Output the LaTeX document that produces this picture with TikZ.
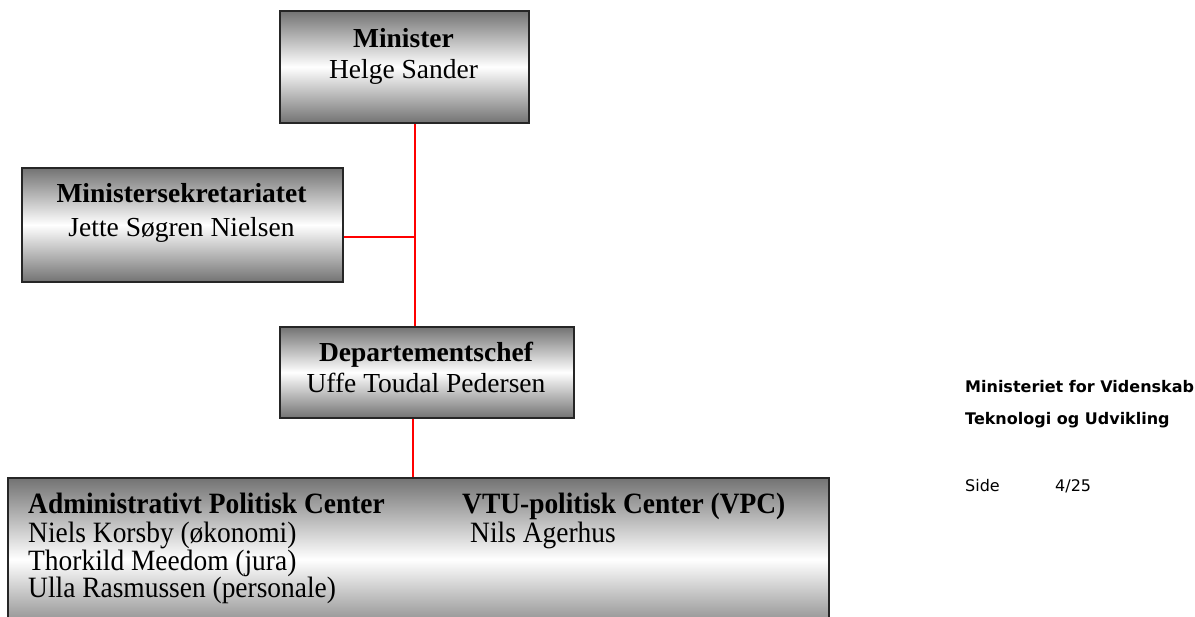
\documentclass[tikz,border=0pt]{standalone}
\usepackage{fontspec}
\setmainfont{Liberation Serif}
\newfontfamily\condserif[FakeStretch=0.93]{Liberation Serif}
\newfontfamily\versans{DejaVu Sans}
\begin{document}
\begin{tikzpicture}[x=1pt,y=-1pt,
  orgbox/.style={draw=black!85, line width=1.8pt, top color=black!55, bottom color=black!55, middle color=white, inner sep=0pt, anchor=north west},
  redline/.style={draw=red, line width=2.2pt},
  nm/.style={font=\fontsize{27.5}{30}\selectfont, inner sep=0pt},
  bnm/.style={font=\fontsize{27.5}{30}\selectfont\bfseries, inner sep=0pt},
  cnm/.style={font=\condserif\fontsize{29.5}{30}\selectfont, inner sep=0pt, anchor=base west},
  cbnm/.style={font=\condserif\fontsize{29.5}{30}\selectfont\bfseries, inner sep=0pt, anchor=base west},
  side/.style={font=\versans\fontsize{16}{18}\selectfont, inner sep=0pt, anchor=base west},
  sideb/.style={font=\versans\fontsize{16}{18}\selectfont\bfseries, inner sep=0pt, anchor=base west},
]
\path[use as bounding box] (0,0) rectangle (1195,617);
\clip (0,0) rectangle (1195,617);

% boxes
\node[orgbox, minimum width=249pt, minimum height=112pt] (min) at (279,10) {};
\node[orgbox, minimum width=321pt, minimum height=114pt] (sek) at (21,167) {};
\node[orgbox, minimum width=294pt, minimum height=91pt] (dep) at (279,326) {};
\node[orgbox, minimum width=821pt, minimum height=163pt] (bot) at (7,477) {};

% connectors
\coordinate (trunk) at (415,0);
\draw[redline] (min.south -| trunk) -- (dep.north -| trunk);
\draw[redline] ([yshift=-12pt]sek.east) -- ([yshift=-12pt]sek.east -| trunk);
\draw[redline] ([xshift=-14pt]dep.south) -- ([xshift=-14pt]dep.south |- bot.north);

% texts
\node[bnm, anchor=base] (minT) at (403.5,48) {Minister};
\node[nm, anchor=base] (minN) at (403.5,79) {Helge Sander};
\node[bnm, anchor=base] (sekT) at (181.5,203) {Ministersekretariatet};
\node[nm, anchor=base] (sekN) at (181.5,237) {Jette Søgren Nielsen};
\node[bnm, anchor=base] (depT) at (426,362) {Departementschef};
\node[nm, anchor=base] (depN) at (426,393) {Uffe Toudal Pedersen};

\node[cbnm] (apcT) at (28,514) {Administrativt Politisk Center};
\node[cnm] (apc1) at (28,543) {Niels Korsby (økonomi)};
\node[cnm] (apc2) at (28,570) {Thorkild Meedom (jura)};
\node[cnm] (apc3) at (28,597) {Ulla Rasmussen (personale)};
\node[cbnm] (vpcT) at (462,514) {VTU-politisk Center (VPC)};
\node[cnm] (vpc1) at (470,543) {Nils Agerhus};

\node[sideb] (org1) at (965,393) {Ministeriet for Videnskab};
\node[sideb] (org2) at (965,425) {Teknologi og Udvikling};
\node[side] (sideL) at (965,492) {Side};
\node[side] (sideN) at (1055,492) {4/25};
\end{tikzpicture}
\end{document}
